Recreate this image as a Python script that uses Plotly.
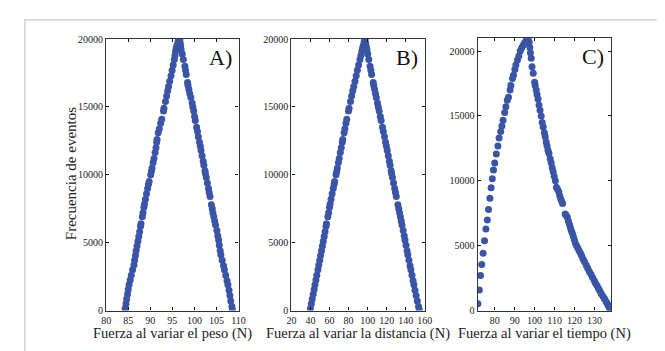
import plotly.graph_objects as go

# ---------------- data ----------------
A_left_y = [150, 500, 850, 1200, 1550, 1900, 2250, 2600, 3000, 3350, 3700, 4050, 4400, 4750, 5100, 5450,
            5800, 6200, 6400, 6900, 7200, 7600, 7850, 8200, 8600, 9000, 9300, 9500, 10000, 10250, 10500,
            10900, 11200, 11650, 12000, 12400, 12600, 13100, 13400, 13800, 14100, 14700, 14900, 15400,
            15800, 16200, 16500, 16900, 17300, 17700, 18100, 18500, 18800, 19100, 19300, 19500, 19750, 19950]
A_left_x = [84.3, 84.5, 84.65, 84.85, 85.0, 85.2, 85.45, 85.7, 86.0, 86.3, 86.45, 86.65, 86.8, 87.0, 87.2,
            87.4, 87.6, 87.8, 87.9, 88.2, 88.35, 88.55, 88.7, 88.9, 89.15, 89.4, 89.6, 89.75, 90.1, 90.25,
            90.4, 90.65, 90.85, 91.1, 91.3, 91.45, 91.55, 91.8, 92.05, 92.35, 92.6, 93.0, 93.1, 93.45, 93.7,
            93.95, 94.15, 94.4, 94.7, 94.95, 95.2, 95.45, 95.6, 95.75, 95.85, 96.0, 96.25, 96.4]

A_right_y = [19950, 19700, 19450, 19200, 18900, 18500, 18000, 17700, 17400, 16800, 16600, 16300, 16000,
             15700, 15300, 15000, 14700, 14300, 14000, 13500, 13200, 12800, 12400, 12100, 11800, 11400,
             11000, 10700, 10300, 10100, 9800, 9400, 9000, 8700, 8400, 7800, 7500, 7200, 6900, 6600, 6300,
             5900, 5500, 5200, 4800, 4400, 4100, 3700, 3300, 3000, 2600, 2200, 1900, 1500, 1100, 700, 300, 50]
A_right_x = [96.7, 96.8, 96.9, 97.0, 97.25, 97.5, 97.85, 98.0, 98.15, 98.45, 98.55, 98.75, 98.95, 99.2,
             99.5, 99.65, 99.85, 100.05, 100.2, 100.5, 100.7, 100.9, 101.15, 101.35, 101.5, 101.75, 102.0,
             102.15, 102.4, 102.5, 102.7, 102.95, 103.2, 103.35, 103.55, 103.85, 104.05, 104.2, 104.4,
             104.6, 104.8, 105.1, 105.3, 105.5, 105.65, 105.85, 106.0, 106.3, 106.6, 106.8, 107.1, 107.4,
             107.6, 107.85, 108.05, 108.25, 108.5, 108.6]

B_left_y = A_left_y
B_left_x = [39.9, 40.9, 41.8, 42.8, 43.8, 44.7, 45.7, 46.6, 47.8, 48.7, 49.7, 50.6, 51.6, 52.5, 53.4, 54.4,
            55.3, 56.3, 56.8, 58.2, 59.0, 60.0, 60.6, 61.6, 62.7, 63.9, 64.8, 65.3, 66.8, 67.5, 68.2, 69.3,
            70.1, 71.3, 72.3, 73.4, 73.9, 75.3, 76.1, 77.2, 78.1, 79.9, 80.5, 82.0, 83.2, 84.4, 85.4, 86.7,
            88.0, 89.2, 90.5, 91.9, 92.9, 93.9, 94.6, 95.3, 96.2, 97.0]

B_right_y = A_right_y
B_right_x = [97.3, 97.9, 98.6, 99.3, 100.1, 101.2, 102.5, 103.4, 104.2, 105.9, 106.4, 107.3, 108.2, 109.1,
             110.3, 111.2, 112.1, 113.3, 114.2, 115.6, 116.5, 117.7, 118.8, 119.7, 120.6, 121.7, 122.8,
             123.6, 124.7, 125.2, 126.1, 127.2, 128.4, 129.2, 130.1, 131.8, 132.7, 133.5, 134.4, 135.3,
             136.1, 137.3, 138.4, 139.2, 140.3, 141.4, 142.2, 143.4, 144.5, 145.4, 146.6, 147.7, 148.6,
             149.7, 150.9, 152.2, 153.4, 154.2]

C_left_x = [71.6, 72.3, 72.9, 73.5, 74.2, 74.9, 75.6, 76.3, 76.9, 77.6, 78.2, 78.8, 79.4, 80.0, 80.8, 81.6,
            82.2, 83.0, 83.6, 84.2, 85.0, 85.6, 86.3, 86.9, 87.7, 88.1, 88.9, 89.4, 90.1, 90.6, 91.4, 92.1,
            92.8, 93.5, 94.2, 95.0, 95.7, 96.3, 96.8]
C_left_y = [520, 1590, 2700, 3550, 4420, 5370, 6280, 6980, 7790, 8650, 9460, 10150, 10830, 11370, 12060,
            12680, 13300, 13800, 14230, 14670, 15260, 15710, 16210, 16450, 17000, 17350, 17890, 18130, 18590,
            18930, 19310, 19630, 20000, 20250, 20450, 20620, 20820, 20940, 21000]

C_right_x = [97.3, 97.6, 97.9, 98.3, 98.7, 99.3, 100.0, 100.3, 100.8, 101.2, 101.7, 102.2, 102.7, 103.3,
             103.8, 104.3, 104.9, 105.3, 105.8, 106.2, 106.7, 107.2, 107.8, 108.3, 108.8, 109.3, 109.8,
             110.4, 110.9, 111.5, 112.1, 112.6, 113.1, 113.6, 114.0, 115.3, 115.8, 116.4, 116.9, 117.4,
             117.9, 118.4, 118.9, 119.4, 119.9, 120.4, 121.0, 121.7, 122.3, 123.0, 123.6, 124.3, 125.0,
             125.8, 126.6, 127.4, 128.2, 129.0, 129.9, 130.5, 131.3, 132.0, 132.7, 133.4, 134.2, 135.0,
             135.8, 136.5, 137.0, 137.5, 137.9]
C_right_y = [20700, 20300, 19880, 19450, 18800, 18300, 17600, 17350, 17000, 16650, 16300, 15850, 15450,
             15000, 14500, 14150, 13700, 13400, 13000, 12700, 12350, 12100, 11700, 11400, 11000, 10700,
             10350, 10000, 9500, 9350, 9150, 8850, 8600, 8400, 8250, 7450, 7350, 7200, 6900, 6650, 6400,
             6150, 5950, 5700, 5450, 5200, 5000, 4800, 4600, 4400, 4200, 3950, 3750, 3500, 3250, 3000,
             2800, 2550, 2300, 2100, 1900, 1700, 1500, 1300, 1100, 900, 700, 500, 350, 200, 50]

A_xticks = [80, 85, 90, 95, 100, 105, 110]
B_xticks = [20, 40, 60, 80, 100, 120, 140, 160]
C_xticks = [80, 90, 100, 110, 120, 130]
y_ticks = [0, 5000, 10000, 15000, 20000]
y_ticktext = ["0", "5000", "10000", "15000", "20000"]

x_titles = ["Fuerza al variar el peso (N)", "Fuerza al variar la distancia (N)", "Fuerza al variar el tiempo (N)"]
y_title = "Frecuencia de eventos"
panel_labels = ["A)", "B)", "C)"]

# ---------------- figure ----------------
W, H = 665, 351
FONT = "Liberation Serif, 'Times New Roman', serif"
BLUE = "#3a54a6"
TXT = "#222222"

fig = go.Figure()


def add(x, y, n):
    sfx = "" if n == 1 else str(n)
    fig.add_trace(go.Scatter(x=x, y=y, mode="markers",
                             marker=dict(size=7, color=BLUE, line=dict(width=0)),
                             xaxis="x" + sfx, yaxis="y" + sfx,
                             showlegend=False, hoverinfo="skip"))


add(A_left_x, A_left_y, 1)
add(A_right_x, A_right_y, 1)
add(B_left_x, B_left_y, 2)
add(B_right_x, B_right_y, 2)
add(C_left_x, C_left_y, 3)
add(C_right_x, C_right_y, 3)


def px_x(p):
    return p / W


def px_y(p):
    return 1 - p / H


axis_common = dict(showline=True, linecolor="#333333", linewidth=1.3, mirror="ticks",
                   ticks="inside", ticklen=3, tickwidth=1.3, tickcolor="#111111",
                   showgrid=False, zeroline=False,
                   tickfont=dict(family=FONT, size=10, color=TXT))

panels = [
    dict(x0=95, x1=230, y0=26, xr=[80, 110], yr=[0, 20000], xt=A_xticks),
    dict(x0=284, x1=420, y0=26, xr=[20, 160], yr=[0, 20000], xt=B_xticks),
    dict(x0=474, x1=610, y0=25, xr=[71.5, 138.3], yr=[0, 21000], xt=C_xticks),
]
y_bottom = 307

layout = dict(width=W, height=H, autosize=False, margin=dict(l=0, r=0, t=0, b=0),
              paper_bgcolor="white", plot_bgcolor="white", showlegend=False)

annotations = []
for i, p in enumerate(panels):
    sfx = "" if i == 0 else str(i + 1)
    xa = dict(axis_common, domain=[px_x(p["x0"]), px_x(p["x1"])], range=p["xr"],
              tickvals=p["xt"], anchor="y" + sfx)
    ya = dict(axis_common, domain=[px_y(y_bottom), px_y(p["y0"])], range=p["yr"],
              tickvals=y_ticks, ticktext=y_ticktext, anchor="x" + sfx)
    layout["xaxis" + sfx] = xa
    layout["yaxis" + sfx] = ya
    annotations.append(dict(text=panel_labels[i], xref="x" + sfx + " domain", yref="y" + sfx + " domain",
                            x=0.965, y=0.985, xanchor="right", yanchor="top",
                            showarrow=False, font=dict(family=FONT, size=22, color="#111111")))
    # x-axis title
    annotations.append(dict(text=x_titles[i], xref="paper", yref="paper",
                            x=px_x((p["x0"] + p["x1"]) / 2), y=px_y(331),
                            xanchor="center", yanchor="middle", showarrow=False,
                            font=dict(family=FONT, size=14.5, color=TXT)))

# y-axis title
annotations.append(dict(text=y_title, xref="paper", yref="paper", x=px_x(60), y=px_y(165),
                        xanchor="center", yanchor="middle", textangle=-90, showarrow=False,
                        font=dict(family=FONT, size=15, color=TXT)))

layout["annotations"] = annotations
layout["shapes"] = [dict(type="rect", xref="paper", yref="paper",
                         x0=px_x(12), x1=1.05, y0=-0.05, y1=px_y(6),
                         line=dict(color="#d4d4d4", width=1.5), fillcolor="rgba(0,0,0,0)", layer="below")]

fig.update_layout(**layout)
fig.write_html("out.html")
